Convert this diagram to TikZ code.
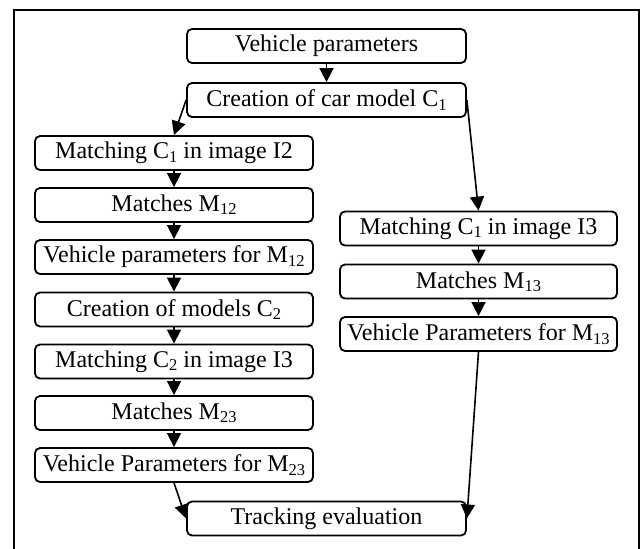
\documentclass[tikz,border=0pt]{standalone}
\usepackage{fontspec}
\setmainfont{Liberation Serif}
\usetikzlibrary{arrows.meta}
\newcommand{\sbs}[1]{\raisebox{-0.3ex}{\fontsize{16.5}{20}\selectfont #1}}
\begin{document}
\begin{tikzpicture}[x=1pt,y=-1pt,
  box/.style={draw, line width=1.8pt, rounded corners=5pt, minimum height=34pt,
    inner sep=0pt, font=\fontsize{24}{28}\selectfont},
  topbox/.style={box, minimum width=279pt},
  lbox/.style={box, minimum width=278pt},
  rbox/.style={box, minimum width=277pt},
  arr/.style={line width=1.6pt, -{Triangle[length=14pt,width=14pt]}},
  frame/.style={line width=2.6pt}]
\useasboundingbox (0,0) rectangle (641,549);
\coordinate (fbl) at (14,549);
\coordinate (ftl) at (14,10);
\coordinate (ftr) at (639,10);
\coordinate (fbr) at (639,549);
\draw[frame] (fbl) -- (ftl) -- (ftr) -- (fbr);

\node[topbox] (v) at (326.5,46) {Vehicle parameters};
\node[topbox] (c1) at (326.5,100) {Creation of car model C\sbs{1}};

\node[lbox] (l1) at (174,153) {Matching C\sbs{1} in image I2};
\node[lbox] (l2) at (174,205) {Matches M\sbs{12}};
\node[lbox] (l3) at (174,257) {Vehicle parameters for M\sbs{12}};
\node[lbox] (l4) at (174,309.5) {Creation of models C\sbs{2}};
\node[lbox] (l5) at (174,361.5) {Matching C\sbs{2} in image I3};
\node[lbox] (l6) at (174,413) {Matches M\sbs{23}};
\node[lbox] (l7) at (174,465) {Vehicle Parameters for M\sbs{23}};

\node[rbox] (r1) at (478.5,228.5) {Matching C\sbs{1} in image I3};
\node[rbox] (r2) at (478.5,281.5) {Matches M\sbs{13}};
\node[rbox] (r3) at (478.5,334) {Vehicle Parameters for M\sbs{13}};

\node[topbox] (t) at (326.5,518.5) {Tracking evaluation};

\draw[arr] (v) -- (c1);
\draw[arr] (c1.west) -- (l1.north);
\draw[arr] (c1.east) -- (r1.north);
\draw[arr] (l1) -- (l2);
\draw[arr] (l2) -- (l3);
\draw[arr] (l3) -- (l4);
\draw[arr] (l4) -- (l5);
\draw[arr] (l5) -- (l6);
\draw[arr] (l6) -- (l7);
\draw[arr] (r1) -- (r2);
\draw[arr] (r2) -- (r3);
\draw[arr] (l7.south) -- (t.west);
\draw[arr] (r3.south) -- (t.east);
\end{tikzpicture}
\end{document}
